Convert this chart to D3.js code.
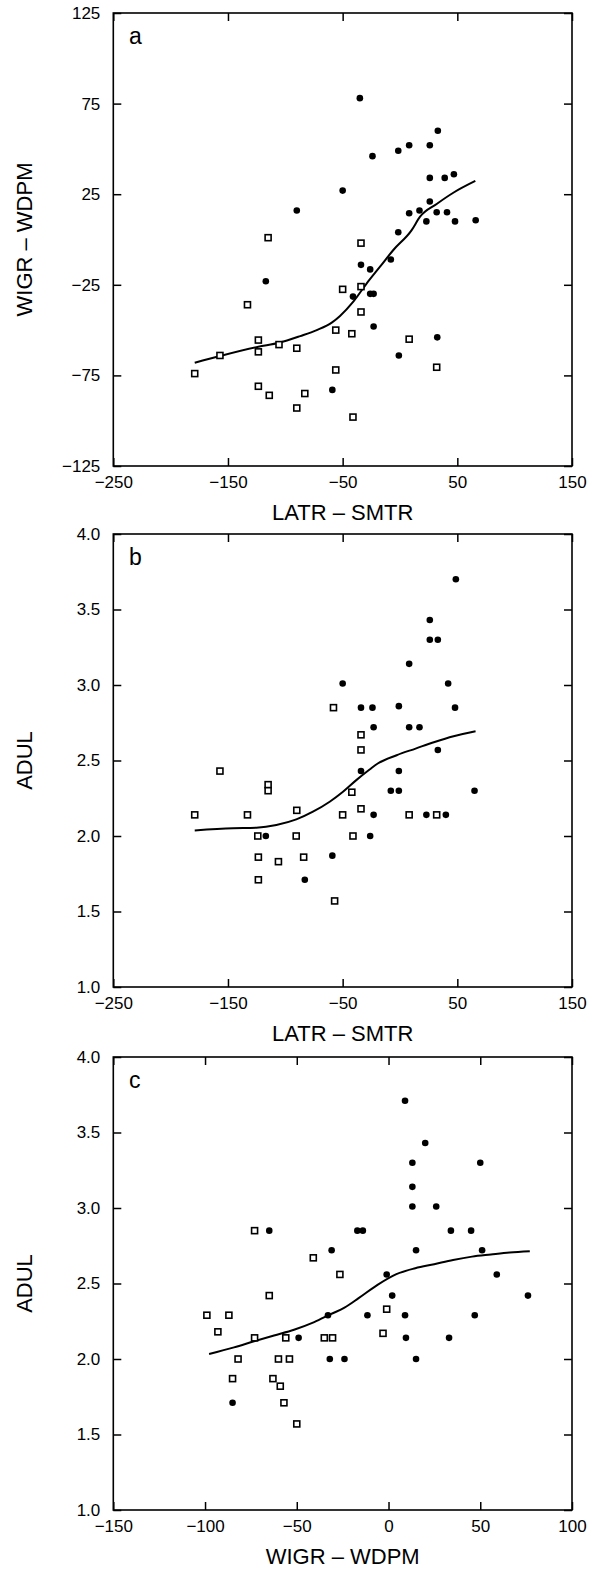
<!DOCTYPE html>
<html><head><meta charset="utf-8">
<script src="https://cdn.jsdelivr.net/npm/d3@7"></script>
<style>
html,body{margin:0;padding:0;background:#fff;}
svg text{font-family:"Liberation Sans",Arial,Helvetica,sans-serif;fill:#000;}
</style></head>
<body>
<svg id="chart" width="592" height="1569"></svg>
<script>
// ---------- Panel a: WIGR - WDPM vs LATR - SMTR ----------
const aXTicks = [-250, -150, -50, 50, 150];
const aYTicks = [-125, -75, -25, 25, 75, 125];
const aSqX = [-115, -34, -133, -50, -34, -34, -56, -42, 8, -123.5, -105.5, -90, -123.5, -157, -179, -56, 32, -123.5, -114, -83, -90, -41];
const aSqY = [1, -2, -36, -27.5, -26, -40, -50, -52, -55, -55.5, -58, -60, -62, -64, -74, -72, -70.5, -81, -86, -85, -93, -98];
const aDotX = [-35, 33, -24, -1.5, 8, 26, -50, -90, 26, 39, 47, 26, 8, 17, 23, 32, 41, 48, 66, -1.5, -117, -34, -26, -8, -41, -26, -23, -23, 32.5, -1, -59];
const aDotY = [78, 60, 46, 49, 52, 52, 27, 16, 34, 34, 36, 21, 14.5, 16, 10, 15, 15, 10, 10.6, 4, -23, -14, -16.5, -11, -31.5, -30, -30, -48, -54, -64, -83];
const aFitX = [-179, -157, -123.5, -105.5, -87, -72.6, -59.5, -52.3, -40.7, -29, -17.4, -5.8, 10.2, 17.5, 32, 46.5, 65.7];
const aFitY = [-68, -64.3, -59.2, -57, -53.3, -50, -45.9, -42.2, -34.3, -24.2, -15, -5.8, 5.2, 12.6, 19.6, 25.8, 32.3];

// ---------- Panel b: ADUL vs LATR - SMTR ----------
const bXTicks = [-250, -150, -50, 50, 150];
const bYTicks = [1.0, 1.5, 2.0, 2.5, 3.0, 3.5, 4.0];
const bSqX = [-58, -34, -34, -157, -115, -115, -42, -179, -133, -90, -50, -34, 8, 32, -124, -90.5, -41, -123.5, -106, -84, -123.5, -57];
const bSqY = [2.85, 2.67, 2.57, 2.43, 2.34, 2.30, 2.29, 2.14, 2.14, 2.17, 2.14, 2.18, 2.14, 2.14, 2.0, 2.0, 2.0, 1.86, 1.83, 1.86, 1.71, 1.57];
const bDotX = [48.7, 26, 26, 33, 8, -50, 42, -34, -24, -1, 48, -23, 8, 17, 33, -34, -1, -8, -1, 65, -23, 23, 40, -117, -26, -59, -83];
const bDotY = [3.70, 3.43, 3.30, 3.30, 3.14, 3.01, 3.01, 2.85, 2.85, 2.86, 2.85, 2.72, 2.72, 2.72, 2.57, 2.43, 2.43, 2.30, 2.30, 2.30, 2.14, 2.14, 2.14, 2.0, 2.0, 1.87, 1.71];
const bFitX = [-179, -145.6, -125.3, -107.8, -90.4, -75.9, -61.3, -49.7, -38.1, -26.5, -19.4, -2.9, 13.6, 30.2, 46.7, 65.9];
const bFitY = [2.037, 2.051, 2.055, 2.073, 2.11, 2.161, 2.227, 2.293, 2.37, 2.44, 2.48, 2.535, 2.579, 2.623, 2.661, 2.694];

// ---------- Panel c: ADUL vs WIGR - WDPM ----------
const cXTicks = [-150, -100, -50, 0, 50, 100];
const cYTicks = [1.0, 1.5, 2.0, 2.5, 3.0, 3.5, 4.0];
const cSqX = [-73, -41, -26.5, -65, -1, -99, -87, -93, -73, -56, -35, -30.5, -3, -82, -60, -54, -85, -63, -59, -57, -50];
const cSqY = [2.85, 2.67, 2.56, 2.42, 2.33, 2.29, 2.29, 2.18, 2.14, 2.14, 2.14, 2.14, 2.17, 2.0, 2.0, 2.0, 1.87, 1.87, 1.82, 1.71, 1.57];
const cDotX = [9, 20, 13, 50, 13, 13, 26, -65, -17, -14, 34, 45, -31, 15, 51, -1, 59, 2, 76, -33, -11.5, 9, 47, -49, 9.5, 33, -32, -24, 15, -85];
const cDotY = [3.71, 3.43, 3.30, 3.30, 3.14, 3.01, 3.01, 2.85, 2.85, 2.85, 2.85, 2.85, 2.72, 2.72, 2.72, 2.56, 2.56, 2.42, 2.42, 2.29, 2.29, 2.29, 2.29, 2.14, 2.14, 2.14, 2.0, 2.0, 2.0, 1.71];
const cFitX = [-97.8, -84.2, -73.3, -62.4, -51.5, -40.5, -31.5, -24, -16.3, -6, 4.3, 14.6, 24.9, 35.2, 45.5, 55.8, 66, 77];
const cFitY = [2.033, 2.077, 2.117, 2.156, 2.194, 2.244, 2.297, 2.34, 2.403, 2.491, 2.562, 2.601, 2.628, 2.656, 2.678, 2.692, 2.705, 2.714];

const panels = [
  {letter:"a", top:13, xDom:[-250,150], yDom:[-125,125], xTicks:aXTicks, yTicks:aYTicks, yFmt:d3.format("d"),
   xTitle:"LATR – SMTR", yTitle:"WIGR – WDPM", sqX:aSqX, sqY:aSqY, dotX:aDotX, dotY:aDotY, fitX:aFitX, fitY:aFitY},
  {letter:"b", top:534, xDom:[-250,150], yDom:[1,4], xTicks:bXTicks, yTicks:bYTicks, yFmt:d3.format(".1f"),
   xTitle:"LATR – SMTR", yTitle:"ADUL", sqX:bSqX, sqY:bSqY, dotX:bDotX, dotY:bDotY, fitX:bFitX, fitY:bFitY},
  {letter:"c", top:1057, xDom:[-150,100], yDom:[1,4], xTicks:cXTicks, yTicks:cYTicks, yFmt:d3.format(".1f"),
   xTitle:"WIGR – WDPM", yTitle:"ADUL", sqX:cSqX, sqY:cSqY, dotX:cDotX, dotY:cDotY, fitX:cFitX, fitY:cFitY}
];

const svg = d3.select("#chart");
const L = 113.3, R = 572, PH = 453, TICK = 8;

panels.forEach(p => {
  const g = svg.append("g");
  const x = d3.scaleLinear().domain(p.xDom).range([L, R]);
  const y = d3.scaleLinear().domain(p.yDom).range([p.top + PH, p.top]);
  const bottom = p.top + PH;

  const ax = g.append("g").attr("transform", `translate(0,${bottom})`)
    .call(d3.axisBottom(x).tickValues(p.xTicks).tickSizeInner(-TICK).tickSizeOuter(0).tickPadding(10).tickFormat(d3.format("d")));
  const axT = g.append("g").attr("transform", `translate(0,${p.top})`)
    .call(d3.axisTop(x).tickValues(p.xTicks).tickSizeInner(-TICK).tickSizeOuter(0).tickFormat(""));
  const ay = g.append("g").attr("transform", `translate(${L},0)`)
    .call(d3.axisLeft(y).tickValues(p.yTicks).tickSizeInner(-TICK).tickSizeOuter(0).tickPadding(13).tickFormat(p.yFmt));
  const ayR = g.append("g").attr("transform", `translate(${R},0)`)
    .call(d3.axisRight(y).tickValues(p.yTicks).tickSizeInner(-TICK).tickSizeOuter(0).tickFormat(""));
  [ax, axT, ay, ayR].forEach(a => {
    a.select(".domain").remove();
    a.selectAll("line").attr("stroke", "#000").attr("stroke-width", 1.5);
    a.selectAll("text").attr("font-size", 17).attr("fill", "#000")
      .style("font-family", '"Liberation Sans", Arial, sans-serif');
  });

  g.append("rect").attr("x", L).attr("y", p.top).attr("width", R - L).attr("height", PH)
    .attr("fill", "none").attr("stroke", "#000").attr("stroke-width", 1.6);

  const fit = p.fitX.map((v, i) => [v, p.fitY[i]]);
  g.append("path").datum(fit)
    .attr("d", d3.line().x(d => x(d[0])).y(d => y(d[1])).curve(d3.curveMonotoneX))
    .attr("fill", "none").attr("stroke", "#000").attr("stroke-width", 2);

  const sq = p.sqX.map((v, i) => [v, p.sqY[i]]);
  g.selectAll("rect.sq").data(sq).enter().append("rect").attr("class", "sq")
    .attr("x", d => x(d[0]) - 3).attr("y", d => y(d[1]) - 3)
    .attr("width", 6).attr("height", 6)
    .attr("fill", "#fff").attr("stroke", "#000").attr("stroke-width", 1.6);

  const dots = p.dotX.map((v, i) => [v, p.dotY[i]]);
  g.selectAll("circle.dot").data(dots).enter().append("circle").attr("class", "dot")
    .attr("cx", d => x(d[0])).attr("cy", d => y(d[1])).attr("r", 3.3).attr("fill", "#000");

  g.append("text").attr("x", 129).attr("y", p.top + 31).attr("font-size", 23).text(p.letter);

  g.append("text").attr("x", (L + R) / 2).attr("y", bottom + 54).attr("text-anchor", "middle")
    .attr("font-size", 22).text(p.xTitle);
  g.append("text").attr("transform", `translate(32,${p.top + PH / 2}) rotate(-90)`)
    .attr("text-anchor", "middle").attr("font-size", 22).text(p.yTitle);
});
</script>
</body></html>
